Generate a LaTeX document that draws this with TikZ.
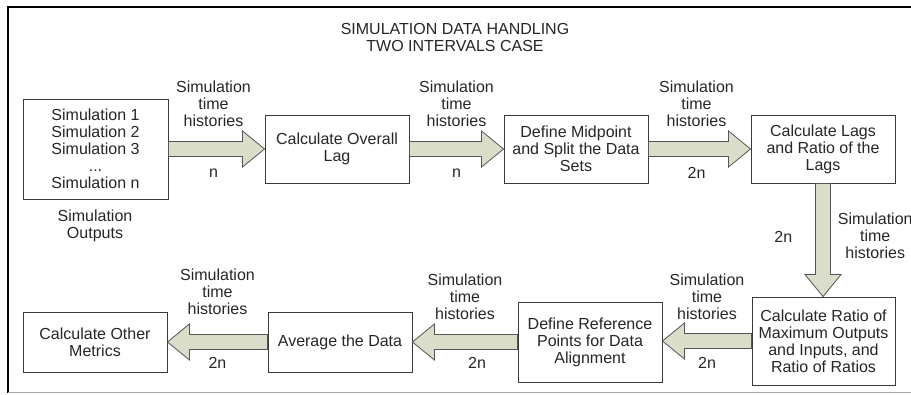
\documentclass[tikz,border=0pt]{standalone}
\usepackage{fontspec}
\setmainfont{Liberation Sans}
\usetikzlibrary{calc}
\usetikzlibrary{positioning}
\definecolor{arrowfill}{HTML}{D9DDC9}
\definecolor{arrowline}{HTML}{555555}
\definecolor{boxline}{HTML}{3A3A3A}
\definecolor{textgray}{HTML}{262626}

\newcommand{\flowarrow}[3]{%
  \draw[fat, shift={(#1)}, rotate=#3]
    let \p1 = ($(#2)-(#1)$), \n1 = {veclen(\x1,\y1)} in
    (0pt,7.5pt) -- (\n1-22pt,7.5pt) -- (\n1-22pt,18pt) -- (\n1,0pt)
    -- (\n1-22pt,-18pt) -- (\n1-22pt,-7.5pt) -- (0pt,-7.5pt) -- cycle;}

\begin{document}
\begin{tikzpicture}[x=1pt, y=-1pt,
  every node/.style={font=\fontsize{16}{17}\selectfont, text=textgray},
  box/.style={draw=boxline, line width=0.9pt, align=center, inner sep=0pt,
    minimum width=144pt, fill=white},
  lbl/.style={align=center, inner sep=0pt},
  fat/.style={draw=arrowline, fill=arrowfill, line width=0.8pt, line join=miter}]

\useasboundingbox (0,0) rectangle (911,394);

\draw[line width=2.2pt] (8,7) -- (911,7);
\draw[line width=2.2pt] (8,6) -- (8,393);
\draw[gray!70, line width=1pt] (8,392.5) -- (911,392.5);

\node[lbl] (title) at (455,37.5) {SIMULATION DATA HANDLING\\TWO INTERVALS CASE};

\node[box, minimum height=100pt, minimum width=145pt] (sims) at (95.5,149)
  {Simulation 1\\Simulation 2\\Simulation 3\\...\\Simulation n};
\node[lbl] (simout) at (95,226) {Simulation\\Outputs};
\node[box, minimum height=68pt] (lag) at (337,149) {Calculate Overall\\Lag};
\node[box, minimum height=68pt] (split) at (576,149) {Define Midpoint\\and Split the Data\\Sets};
\node[box, minimum height=68pt] (lags) at (823,149) {Calculate Lags\\and Ratio of the\\Lags};
\node[box, minimum height=88pt, minimum width=143pt] (ratio) at (823.5,341)
  {Calculate Ratio of\\Maximum Outputs\\and Inputs, and\\Ratio of Ratios};
\node[box, minimum height=80pt] (refpts) at (590,342) {Define Reference\\Points for Data\\Alignment};
\node[box, minimum height=60pt] (avg) at (340,342) {Average the Data};
\node[box, minimum height=60pt] (metrics) at (95,342) {Calculate Other\\Metrics};

\flowarrow{sims.east}{lag.west}{0}
\flowarrow{lag.east}{split.west}{0}
\flowarrow{split.east}{lags.west}{0}
\flowarrow{lags.south}{ratio.north}{-90}
\flowarrow{ratio.west}{refpts.east}{180}
\flowarrow{refpts.west}{avg.east}{180}
\flowarrow{avg.west}{metrics.east}{180}

\node[lbl] (h1) at ($(sims.east)!.5!(lag.west)+(-3,-45)$) {Simulation\\time\\histories};
\node[lbl] (c1) at ($(sims.east)!.5!(lag.west)+(-3,24)$) {n};
\node[lbl] (h2) at ($(lag.east)!.5!(split.west)+(0,-45)$) {Simulation\\time\\histories};
\node[lbl] (c2) at ($(lag.east)!.5!(split.west)+(0,24)$) {n};
\node[lbl] (h3) at ($(split.east)!.5!(lags.west)+(-3,-45)$) {Simulation\\time\\histories};
\node[lbl] (c3) at ($(split.east)!.5!(lags.west)+(-3,24)$) {2n};
\node[lbl] (h4) at ($(lags.south)!.5!(ratio.north)+(52,-4)$) {Simulation\\time\\histories};
\node[lbl] (c4) at ($(lags.south)!.5!(ratio.north)+(-40,-3)$) {2n};
\node[lbl] (h5) at ($(ratio.west)!.5!(refpts.east)+(0,-45)$) {Simulation\\time\\histories};
\node[lbl] (c5) at ($(ratio.west)!.5!(refpts.east)+(0,21)$) {2n};
\node[lbl] (h6) at ($(refpts.west)!.5!(avg.east)+(0,-45)$) {Simulation\\time\\histories};
\node[lbl] (c6) at ($(refpts.west)!.5!(avg.east)+(12,21)$) {2n};
\node[lbl] (h7) at ($(avg.west)!.5!(metrics.east)+(0,-50)$) {Simulation\\time\\histories};
\node[lbl] (c7) at ($(avg.west)!.5!(metrics.east)+(0,21)$) {2n};

\end{tikzpicture}
\end{document}
